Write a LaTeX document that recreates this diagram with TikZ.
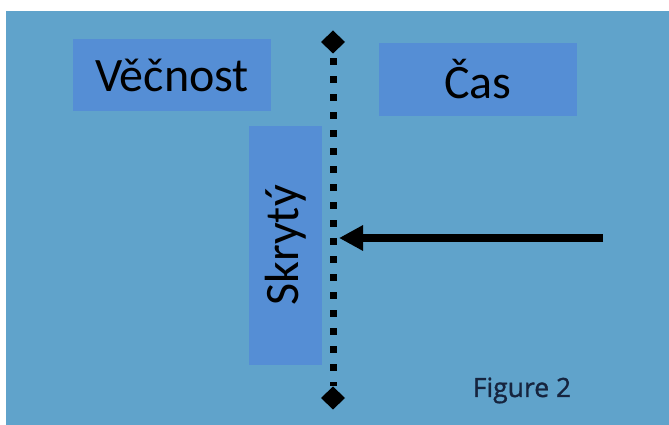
\documentclass[tikz,border=0pt]{standalone}
\usepackage{fontspec}
\setmainfont{Carlito}
\newfontfamily\captionfont[FakeBold=1.2]{Open Sans}
\usetikzlibrary{shapes.geometric,arrows.meta}
\definecolor{sea}{RGB}{96,163,203}
\definecolor{boxblue}{RGB}{85,142,213}
\definecolor{navy}{RGB}{22,36,62}
\begin{document}
\begin{tikzpicture}[x=1pt,y=1pt]
\tikzset{ >=latex, inner sep=0pt, outer sep=0pt,
  field/.style={fill=boxblue, font=\fontsize{48}{52}\selectfont},
  tipmark/.style={fill=black, diamond, minimum width=24pt, minimum height=23pt} }

\useasboundingbox (0,0) rectangle (669,425);
\fill [sea] (6,0) rectangle (669,414);

\node [field, minimum width=198pt, minimum height=72pt] (V) at (172,350) {Věčnost};
\node [field, minimum width=198pt, minimum height=73pt] (C) at (478,345.5) {Čas};
\node [field, minimum width=73pt, minimum height=239pt] (S) at (285.5,179.5) {};
\node [rotate=90, font=\fontsize{48}{52}\selectfont] (SL) at (S.center) {Skrytý};

\node [tipmark] (T) at (333,383) {};
\node [tipmark] (B) at (333,27) {};

\draw [line width=7pt, dash pattern=on 7pt off 11pt, dash phase=-5pt] (T) -- (B);

\coordinate (from) at (603,187);
\coordinate (hit) at (339,187);
\draw [line width=8pt, -{Triangle[length=24pt,width=24pt]}] (from) -- (hit);

\node [navy, anchor=base, font=\captionfont\fontsize{26.5}{30}\selectfont] (fig) at (522,28) {Figure 2};

\end{tikzpicture}
\end{document}
